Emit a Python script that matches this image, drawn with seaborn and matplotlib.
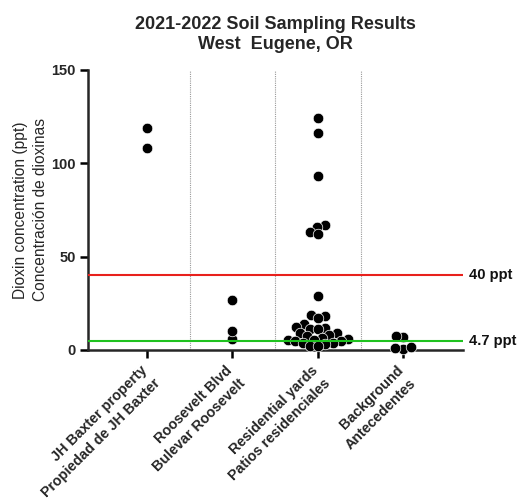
import pandas as pd
import matplotlib
matplotlib.use('Agg')
import matplotlib.pyplot as plt
import matplotlib.transforms as mtransforms
import seaborn as sns

# Values (ppt)
sites = ['JH Baxter property\nPropiedad de JH Baxter',
         'Roosevelt Blvd\nBulevar Roosevelt',
         'Residential yards\nPatios residenciales',
         'Background\nAntecedentes']
jh_baxter = [119, 108]
roosevelt = [27, 6, 10]
residential = [124, 116, 93, 67, 66, 63, 62, 29, 19, 18, 17, 14, 12.5, 12,
               11.5, 11, 9, 9, 8, 7.5, 6.5, 6, 5.5, 5.5, 5, 5, 4, 3.5, 3, 2, 2]
background = [7, 0.4, 1.8, 7.7, 0.9]

thresholds = [40, 4.7]
threshold_labels = ['40 ppt', '4.7 ppt']
threshold_colors = ['#e8201c', '#1fc21f']
y_ticks = [0, 50, 100, 150]

rows = []
for site, vals in zip(sites, [jh_baxter, roosevelt, residential, background]):
    for v in vals:
        rows.append({'site': site, 'ppt': v})
df = pd.DataFrame(rows)

sns.set_style('ticks')
plt.rcParams['font.family'] = ['Liberation Sans', 'DejaVu Sans']

fig = plt.figure(figsize=(5.24, 5.04), dpi=100)
ax = fig.add_axes([0.168, 0.3056, 0.7157, 0.5556])

# lay the swarm out with a smaller marker so dots overlap a bit, like the original
sns.swarmplot(data=df, x='site', y='ppt', order=sites, color='black',
              size=4.9, edgecolor='white', linewidth=0.5, ax=ax, zorder=3)

for sep in [0.5, 1.5, 2.5]:
    ax.axvline(sep, color='#9a9a9a', linestyle=(0, (1, 1)), linewidth=0.8, zorder=1)

for val, lab, col in zip(thresholds, threshold_labels, threshold_colors):
    ax.axhline(val, color=col, linewidth=1.5, zorder=4)
    ax.text(1.015, val, lab, transform=ax.get_yaxis_transform(), ha='left',
            va='center', fontsize=10.5, fontweight='bold', color='#111111')

ax.set_xlim(-0.69, 3.70)
ax.set_ylim(0, 150)
ax.set_yticks(y_ticks)
ax.set_yticklabels([str(t) for t in y_ticks], fontsize=10.5, fontweight='bold')
ax.set_xticks(range(len(sites)))
ax.tick_params(axis='both', width=1.8, length=6, color='black', pad=3)
ax.tick_params(axis='x', pad=12)
ax.set_xticklabels(sites, rotation=45, ha='right', va='center', rotation_mode='anchor',
                   fontsize=10.3, fontweight='bold', linespacing=1.4)
shift = mtransforms.ScaledTranslation(3 / 72, 0, fig.dpi_scale_trans)
for lab in ax.get_xticklabels():
    lab.set_transform(lab.get_transform() + shift)
ax.set_xlabel('')
ax.set_ylabel('Dioxin concentration (ppt)\nConcentración de dioxinas',
              fontsize=11.2, linespacing=1.4, labelpad=2)

for side in ['left', 'bottom']:
    ax.spines[side].set_linewidth(1.8)
sns.despine(ax=ax)

fig.suptitle('2021-2022 Soil Sampling Results\nWest  Eugene, OR', x=0.526, y=0.968,
             fontsize=13, fontweight='bold', linespacing=1.2)

# freeze the swarm positions, then enlarge the dots
fig.canvas.draw()
for coll in ax.collections:
    if 'draw' in coll.__dict__:
        del coll.draw
    coll.set_sizes([7.6 ** 2])
    coll.set_clip_on(False)

fig.savefig('out.png', dpi=100)
